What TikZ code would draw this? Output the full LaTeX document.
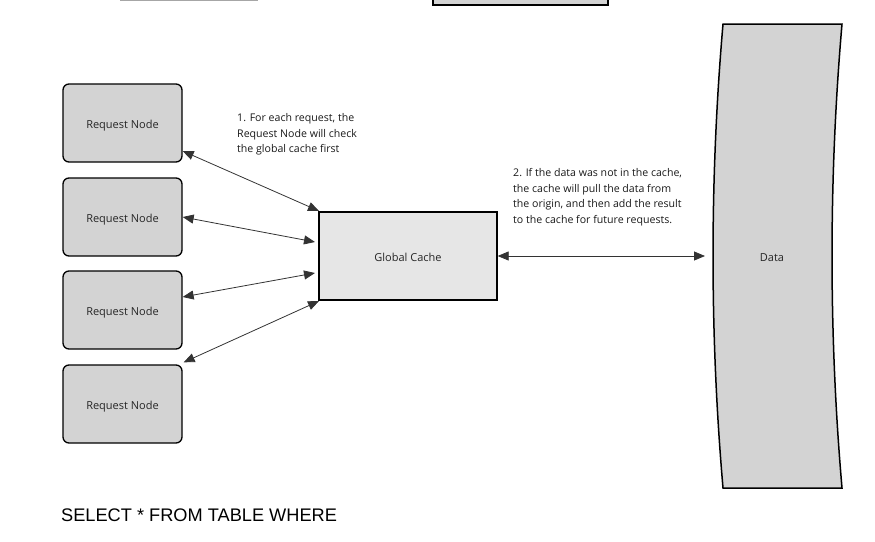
\documentclass[tikz,border=0pt]{standalone}
\usepackage{fontspec}
\setmainfont{Open Sans}
\newfontfamily\sqlfont{Liberation Sans}
\usetikzlibrary{arrows.meta}
\definecolor{nodegray}{HTML}{D3D3D3}
\definecolor{cachegray}{HTML}{E6E6E6}
\tikzset{
  reqnode/.style={draw=black, line width=1.3pt, fill=nodegray, rounded corners=6pt, minimum width=119pt, minimum height=78pt, inner sep=0pt, text height=12.5pt, text depth=2pt, font=\fontsize{11}{13}\selectfont, text=black!85},
  cachenode/.style={draw=black, line width=1.3pt, fill=cachegray, minimum width=178pt, minimum height=88pt, inner sep=0pt, text height=12.5pt, text depth=2pt, font=\fontsize{11}{13}\selectfont, text=black!85},
  conn/.style={draw=black!80, line width=0.8pt, {Triangle[length=11pt,width=9pt]}-{Triangle[length=11pt,width=9pt]}},
  note/.style={align=left, anchor=north west, inner sep=0pt, font=\fontsize{10.6}{15.8}\selectfont, text=black!90},
}
\begin{document}
\begin{tikzpicture}[x=1pt,y=-1pt]
\useasboundingbox (0,0) rectangle (875,541);
% cut-off items at the top
\draw[black!35, line width=1.5pt] (120,0.5) -- (258,0.5);
\path[draw=black, line width=1.5pt, fill=nodegray] (433,-10) rectangle (608,5);
% request nodes
\node[reqnode] (r1) at (122.5,123) {Request Node};
\node[reqnode] (r2) at (122.5,217) {Request Node};
\node[reqnode] (r3) at (122.5,310) {Request Node};
\node[reqnode] (r4) at (122.5,404) {Request Node};
% global cache
\node[cachenode] (gc) at (408,256) {Global Cache};
% data shape
\path[draw=black, line width=1.5pt, fill=nodegray]
  (723,24) -- (842,24)
  .. controls (828.7,178) and (828.7,334) .. (842,488)
  -- (723,488)
  .. controls (709.7,334) and (709.7,178) .. (723,24) -- cycle;
\node[inner sep=0pt, font=\fontsize{11}{13}\selectfont, text=black!85] (data) at (772,258) {Data};
\coordinate (dataL) at (705,256);
% connectors
\coordinate (g1) at (319,211);
\coordinate (g2) at (315,242);
\coordinate (g3) at (315,273);
\coordinate (g4) at (319,301);
\draw[conn] (r1.east |- 0,151) -- (g1);
\draw[conn] (r2.east) -- (g2);
\draw[conn] (r3.east |- 0,297) -- (g3);
\draw[conn] (r4.north east) ++(1,-2) coordinate (r4t) -- (g4);
\draw[conn] (gc.east) -- (dataL);
% notes
\node[note] (n1) at (237,113) {1. For each request, the\\Request Node will check\\the global cache first};
\node[note] (n2) at (513,168) {2. If the data was not in the cache,\\the cache will pull the data from\\the origin, and then add the result\\to the cache for future requests.};
\node[anchor=base west, inner sep=0pt, font=\sqlfont\fontsize{18.2}{20}\selectfont] (sql) at (61,521) {SELECT * FROM TABLE WHERE};
\end{tikzpicture}
\end{document}
